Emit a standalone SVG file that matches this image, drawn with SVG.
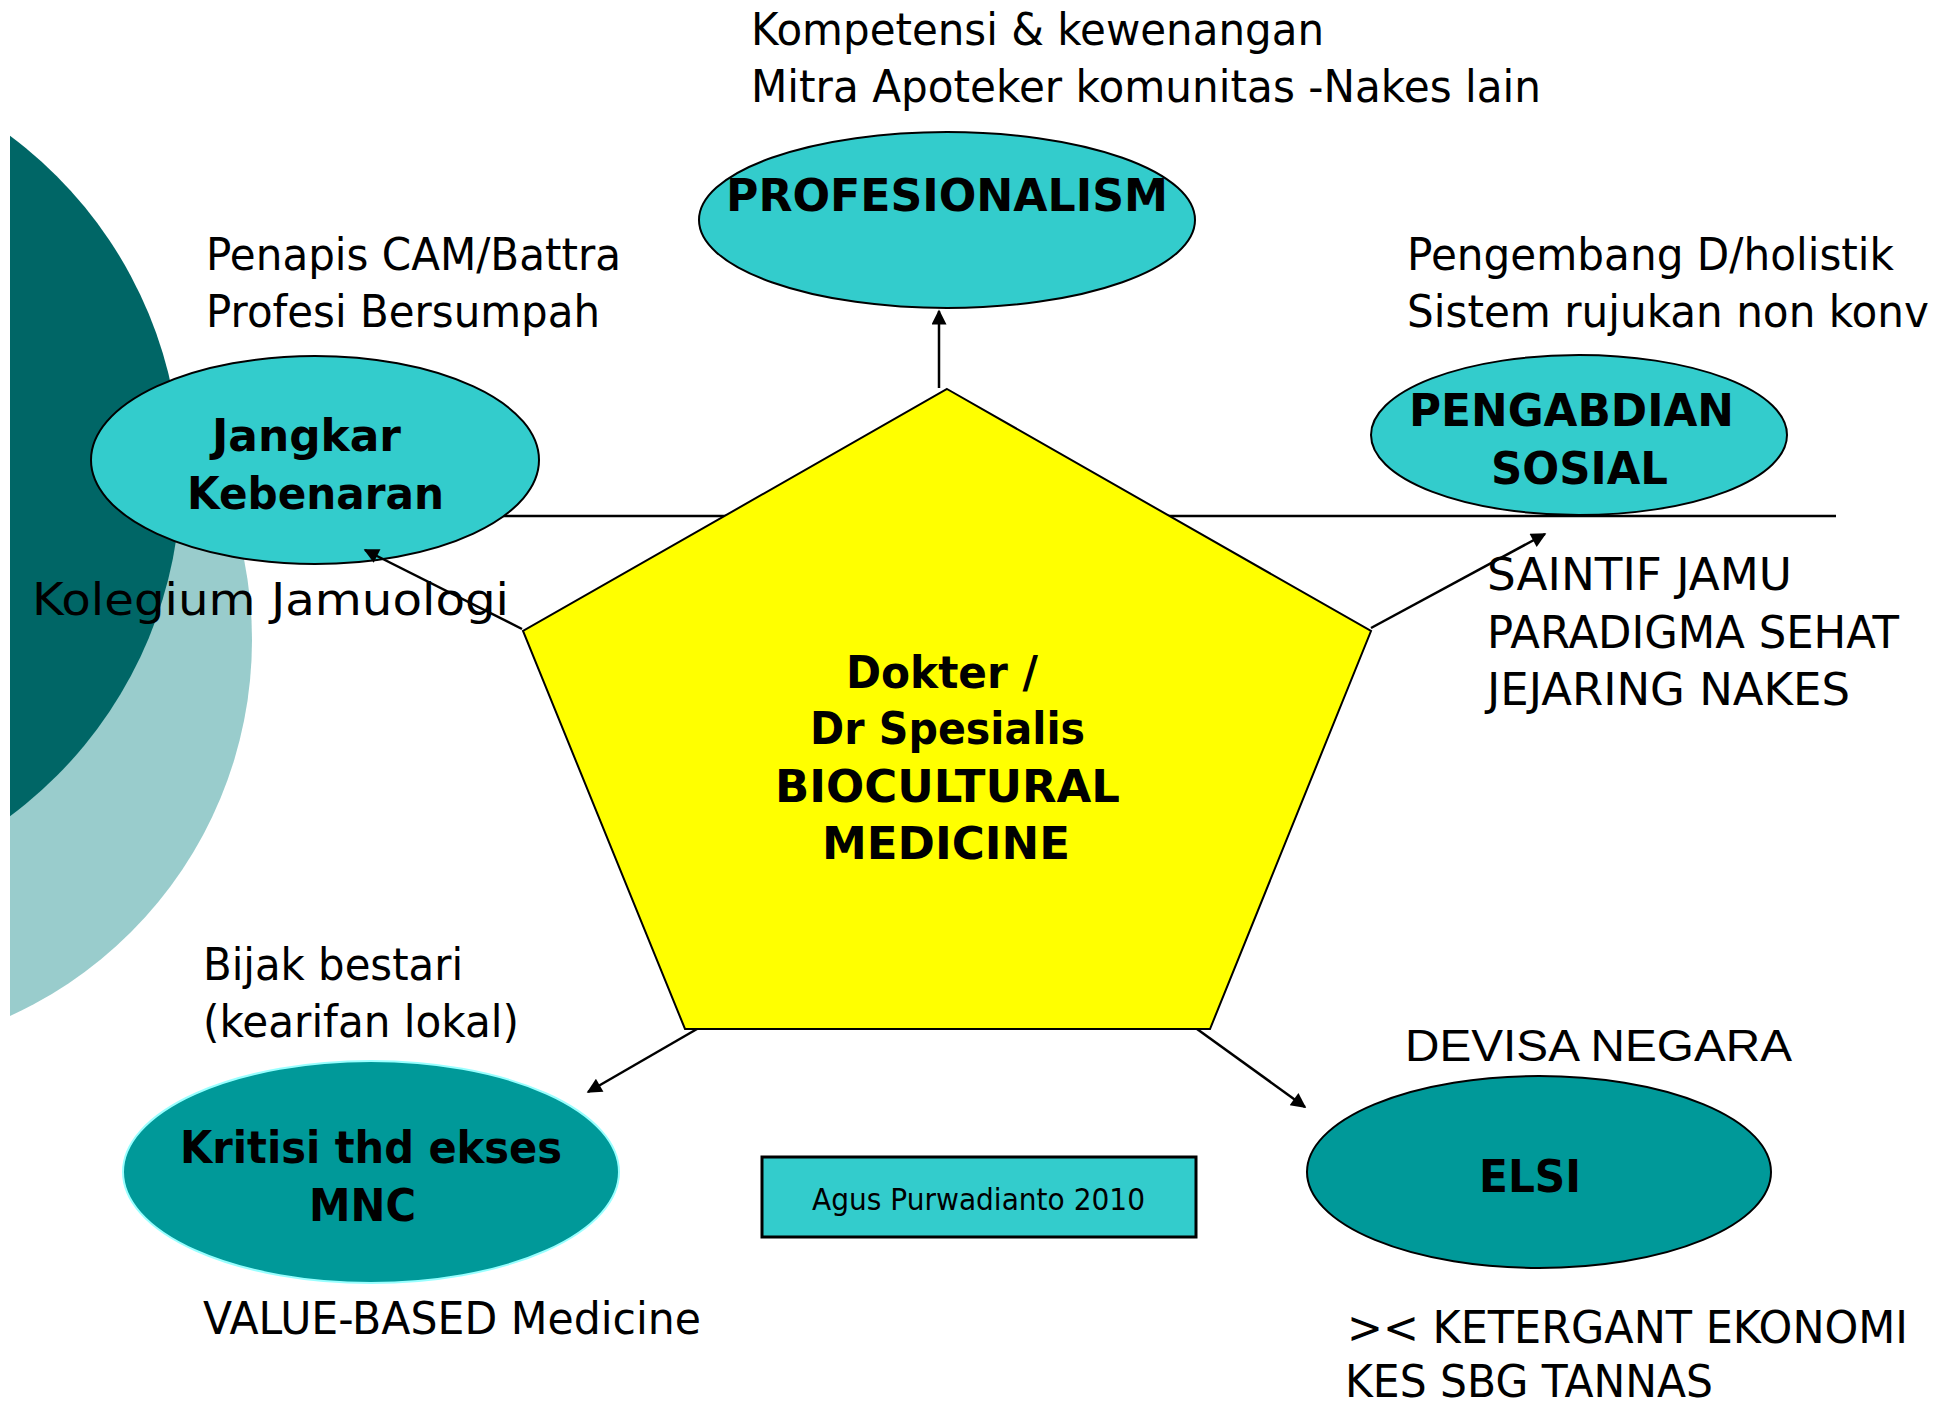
<svg xmlns="http://www.w3.org/2000/svg" width="1955" height="1403" viewBox="0 0 1955 1403">
  <defs>
    <style>
      .note { font-family: "DejaVu Sans", Verdana, sans-serif; font-size: 45px; fill: #000; }
      .arial { font-family: "Liberation Sans", Arial, sans-serif; font-size: 45px; fill: #000; }
      .bold { font-family: "DejaVu Sans", Verdana, sans-serif; font-weight: bold; font-size: 44px; fill: #000; }
      .small { font-family: "DejaVu Sans", Verdana, sans-serif; font-size: 30px; fill: #000; }
      .lightNode { fill: #33CCCC; stroke: #000; stroke-width: 2; }
      .darkNode { fill: #009999; stroke: #000; stroke-width: 2; }
      .edge { stroke: #000; stroke-width: 2.5; fill: none; marker-end: url(#arrow); }
    </style>
    <marker id="arrow" viewBox="0 0 10 10" refX="9" refY="5" markerWidth="7" markerHeight="6" markerUnits="strokeWidth" orient="auto">
      <path d="M0,0 L10,5 L0,10 z" fill="#000"/>
    </marker>
    <clipPath id="slide">
      <rect x="10" y="0" width="1945" height="1403"/>
    </clipPath>
  </defs>

  <rect width="1955" height="1403" fill="#FFFFFF"/>

  <!-- decorative background discs on the left edge -->
  <g id="backdrop" clip-path="url(#slide)">
    <circle cx="-161" cy="640" r="413" fill="#99CCCC"/>
    <circle cx="-243" cy="476" r="424" fill="#006666"/>
  </g>

  <!-- horizontal rule through the middle -->
  <g id="rule">
    <line x1="420" y1="516" x2="1836" y2="516" stroke="#000" stroke-width="2.5"/>
  </g>

  <g id="profesionalism">
    <ellipse class="lightNode" cx="947" cy="220" rx="248" ry="88"/>
    <text class="bold" x="726" y="211" textLength="442" lengthAdjust="spacingAndGlyphs">PROFESIONALISM</text>
  </g>

  <g id="jangkar">
    <ellipse class="lightNode" cx="315" cy="460" rx="224" ry="104"/>
    <text class="bold" x="212" y="451" textLength="189" lengthAdjust="spacingAndGlyphs">Jangkar</text>
    <text class="bold" x="187" y="509" textLength="257" lengthAdjust="spacingAndGlyphs">Kebenaran</text>
  </g>

  <g id="pengabdian">
    <ellipse class="lightNode" cx="1579" cy="435" rx="208" ry="80"/>
    <text class="bold" x="1409" y="426" textLength="325" lengthAdjust="spacingAndGlyphs">PENGABDIAN</text>
    <text class="bold" x="1491" y="484" textLength="177" lengthAdjust="spacingAndGlyphs">SOSIAL</text>
  </g>

  <g id="kritisi">
    <ellipse cx="371" cy="1172" rx="248" ry="111" fill="#009999" stroke="#99FFFF" stroke-width="2"/>
    <text class="bold" x="180" y="1163" textLength="382" lengthAdjust="spacingAndGlyphs">Kritisi thd ekses</text>
    <text class="bold" x="309" y="1221" textLength="107" lengthAdjust="spacingAndGlyphs">MNC</text>
  </g>

  <g id="elsi">
    <ellipse class="darkNode" cx="1539" cy="1172" rx="232" ry="96"/>
    <text class="bold" x="1479" y="1192" textLength="102" lengthAdjust="spacingAndGlyphs">ELSI</text>
  </g>

  <g id="dokter">
    <polygon points="947,389 1371,631 1210,1029 685,1029 523,631" fill="#FFFF00" stroke="#000" stroke-width="2"/>
    <text class="bold" x="846" y="688" textLength="192" lengthAdjust="spacingAndGlyphs">Dokter /</text>
    <text class="bold" x="810" y="744" textLength="275" lengthAdjust="spacingAndGlyphs">Dr Spesialis</text>
    <text class="bold" x="775" y="802" textLength="345" lengthAdjust="spacingAndGlyphs">BIOCULTURAL</text>
    <text class="bold" x="822" y="859" textLength="248" lengthAdjust="spacingAndGlyphs">MEDICINE</text>
  </g>

  <g id="credit">
    <rect x="762" y="1157" width="434" height="80" fill="#33CCCC" stroke="#000" stroke-width="3"/>
    <text class="small" x="812" y="1210" textLength="333" lengthAdjust="spacingAndGlyphs">Agus Purwadianto 2010</text>
  </g>

  <!-- free-standing annotations -->
  <g id="notes">
    <text class="note" x="751" y="45" textLength="573" lengthAdjust="spacingAndGlyphs">Kompetensi &amp; kewenangan</text>
    <text class="note" x="751" y="102" textLength="790" lengthAdjust="spacingAndGlyphs">Mitra Apoteker komunitas -Nakes lain</text>
    <text class="note" x="206" y="270" textLength="415" lengthAdjust="spacingAndGlyphs">Penapis CAM/Battra</text>
    <text class="note" x="206" y="327" textLength="394" lengthAdjust="spacingAndGlyphs">Profesi Bersumpah</text>
    <text class="note" x="1407" y="270" textLength="487" lengthAdjust="spacingAndGlyphs">Pengembang D/holistik</text>
    <text class="note" x="1407" y="327" textLength="522" lengthAdjust="spacingAndGlyphs">Sistem rujukan non konv</text>
    <text class="note" x="32" y="615" textLength="477" lengthAdjust="spacingAndGlyphs">Kolegium Jamuologi</text>
    <text class="note" x="1487" y="590" textLength="305" lengthAdjust="spacingAndGlyphs">SAINTIF JAMU</text>
    <text class="note" x="1487" y="648" textLength="412" lengthAdjust="spacingAndGlyphs">PARADIGMA SEHAT</text>
    <text class="note" x="1487" y="705" textLength="363" lengthAdjust="spacingAndGlyphs">JEJARING NAKES</text>
    <text class="note" x="203" y="980" textLength="260" lengthAdjust="spacingAndGlyphs">Bijak bestari</text>
    <text class="note" x="203" y="1037" textLength="316" lengthAdjust="spacingAndGlyphs">(kearifan lokal)</text>
    <text class="note" x="203" y="1334" textLength="498" lengthAdjust="spacingAndGlyphs">VALUE-BASED Medicine</text>
    <text class="arial" x="1405" y="1061" textLength="387" lengthAdjust="spacingAndGlyphs">DEVISA NEGARA</text>
    <text class="note" x="1347" y="1343" textLength="561" lengthAdjust="spacingAndGlyphs">&gt;&lt; KETERGANT EKONOMI</text>
    <text class="note" x="1345" y="1397" textLength="368" lengthAdjust="spacingAndGlyphs">KES SBG TANNAS</text>
  </g>

  <g id="connectors">
    <line class="edge" x1="939" y1="388" x2="939" y2="311"/>
    <line class="edge" x1="522" y1="629" x2="365" y2="550"/>
    <line class="edge" x1="1371" y1="628" x2="1545" y2="534"/>
    <line class="edge" x1="697" y1="1029" x2="588" y2="1092"/>
    <line class="edge" x1="1197" y1="1029" x2="1305" y2="1107"/>
  </g>
</svg>
